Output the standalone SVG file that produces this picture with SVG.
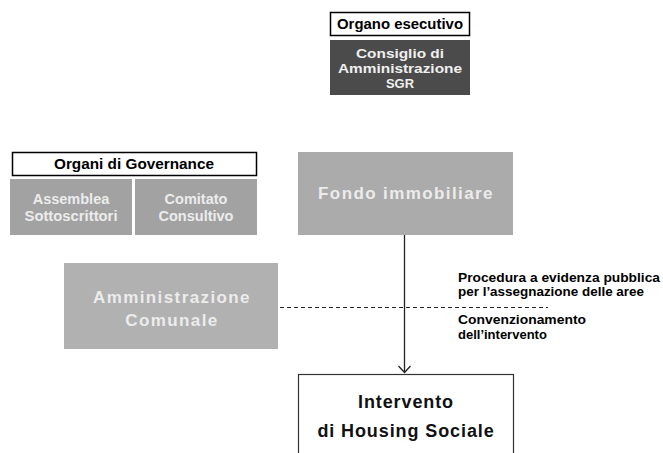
<svg xmlns="http://www.w3.org/2000/svg" width="663" height="453" viewBox="0 0 663 453">
<style>
text{font-family:"Liberation Sans",Arial,sans-serif;font-weight:bold;text-anchor:middle}
.hdr{fill:#fff;stroke:#000;stroke-width:1.5}
.gov{fill:#a2a2a2}
.light{fill:#ececec}
.big{font-size:17px;letter-spacing:1.4px}
.note{font-size:13px;text-anchor:start;fill:#000}
.csg{font-size:13px;fill:#f0f0f0}
</style>
<rect width="663" height="453" fill="#fff"/>
<g id="organo-esecutivo">
<rect class="hdr" x="330.5" y="12.5" width="139" height="23"/>
<text x="400" y="29" font-size="14.5" textLength="126" lengthAdjust="spacingAndGlyphs">Organo esecutivo</text>
</g>
<g id="consiglio">
<rect x="330" y="40" width="140" height="55" fill="#4b4b4b"/>
<text class="csg" x="400" y="58" textLength="88" lengthAdjust="spacingAndGlyphs">Consiglio di</text>
<text class="csg" x="400" y="73" textLength="124" lengthAdjust="spacingAndGlyphs">Amministrazione</text>
<text class="csg" x="400" y="88" textLength="28" lengthAdjust="spacingAndGlyphs">SGR</text>
</g>
<g id="organi-governance">
<rect class="hdr" x="12.5" y="152.5" width="244" height="23"/>
<text x="134" y="169" font-size="14.5" textLength="160" lengthAdjust="spacingAndGlyphs">Organi di Governance</text>
</g>
<g id="assemblea">
<rect class="gov" x="10" y="179" width="122" height="56"/>
<text class="light" x="71" y="204" font-size="14.5">Assemblea</text>
<text class="light" x="71" y="221" font-size="14.5" textLength="93" lengthAdjust="spacingAndGlyphs">Sottoscrittori</text>
</g>
<g id="comitato">
<rect class="gov" x="135" y="179" width="122" height="56"/>
<text class="light" x="196" y="204" font-size="14.5">Comitato</text>
<text class="light" x="196" y="221" font-size="14.5">Consultivo</text>
</g>
<g id="fondo">
<rect x="298" y="152" width="215" height="83" fill="#ababab"/>
<text class="big light" x="406" y="199">Fondo immobiliare</text>
</g>
<g id="amministrazione">
<rect x="64" y="263" width="214" height="86" fill="#b1b1b1"/>
<text class="big light" x="172" y="303">Amministrazione</text>
<text class="big light" x="172" y="326">Comunale</text>
</g>
<g id="intervento">
<rect x="298.5" y="374.5" width="215" height="90" fill="#fff" stroke="#333" stroke-width="1.2"/>
<text x="406" y="408" font-size="18" letter-spacing="0.9" fill="#111">Intervento</text>
<text x="406" y="437" font-size="18" letter-spacing="0.9" fill="#111">di Housing Sociale</text>
</g>
<g id="connectors">
<line x1="404.5" y1="235" x2="404.5" y2="372" stroke="#222" stroke-width="1.3"/>
<polyline points="398.5,366 404.5,372.5 410.5,366" fill="none" stroke="#222" stroke-width="1.3"/>
<line x1="280" y1="307.5" x2="548" y2="307.5" stroke="#222" stroke-width="1.2" stroke-dasharray="4,3"/>
</g>
<g id="labels">
<text class="note" x="458" y="282" textLength="202" lengthAdjust="spacingAndGlyphs">Procedura a evidenza pubblica</text>
<text class="note" x="458" y="296" textLength="186" lengthAdjust="spacingAndGlyphs">per l’assegnazione delle aree</text>
<text class="note" x="458" y="324" textLength="128" lengthAdjust="spacingAndGlyphs">Convenzionamento</text>
<text class="note" x="458" y="339">dell’intervento</text>
</g>
</svg>
